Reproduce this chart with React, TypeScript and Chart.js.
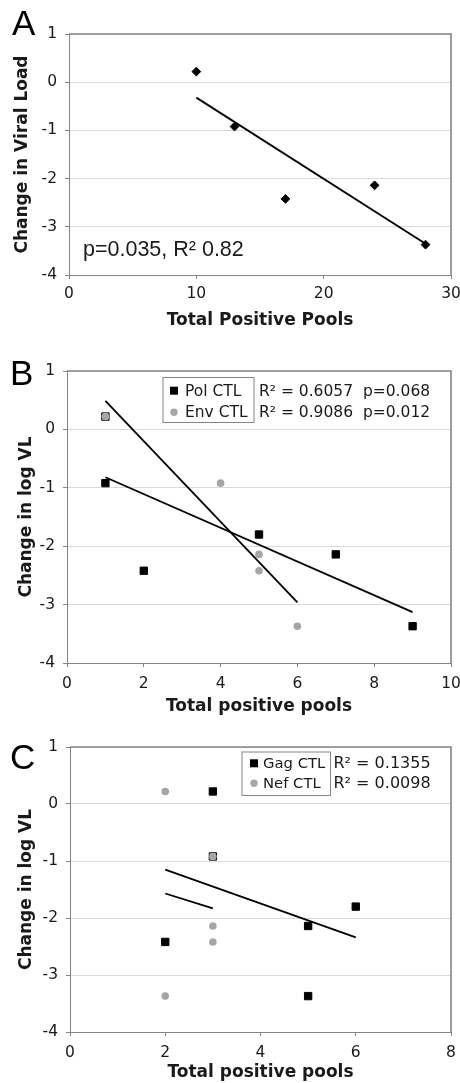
import React, { useEffect, useRef } from "react";
import { Chart, registerables } from "chart.js";

Chart.register(...registerables);

// ---------- Data ----------
// Panel A
const aPools = [10, 13, 17, 24, 28];
const aChange = [0.22, -0.92, -2.42, -2.14, -3.37];
const aTrendX = [10, 28];
const aTrendY = [-0.32, -3.35];
const aStat = "p=0.035, R\u00B2 0.82";

// Panel B
const bPolPools = [1, 1, 2, 5, 7, 9];
const bPolChange = [0.22, -0.92, -2.42, -1.8, -2.14, -3.37];
const bEnvPools = [1, 4, 5, 5, 6];
const bEnvChange = [0.22, -0.92, -2.14, -2.42, -3.37];
const bPolTrendX = [1, 9];
const bPolTrendY = [-0.82, -3.13];
const bEnvTrendX = [1, 6];
const bEnvTrendY = [0.49, -2.96];
const bLabels = ["Pol CTL", "Env CTL"];
const bStats = ["R\u00B2 = 0.6057  p=0.068", "R\u00B2 = 0.9086  p=0.012"];

// Panel C
const cGagPools = [2, 3, 3, 5, 5, 6];
const cGagChange = [-2.42, 0.22, -0.92, -2.14, -3.37, -1.8];
const cNefPools = [2, 2, 3, 3, 3];
const cNefChange = [0.22, -3.37, -0.92, -2.14, -2.42];
const cGagTrendX = [2, 6];
const cGagTrendY = [-1.15, -2.34];
const cNefTrendX = [2, 3];
const cNefTrendY = [-1.57, -1.83];
const cLabels = ["Gag CTL", "Nef CTL"];
const cStats = ["R\u00B2 = 0.1355", "R\u00B2 = 0.0098"];

// Axes
const yMin = -4;
const yMax = 1;
const xMaxes = [30, 10, 8];
const xSteps = [10, 2, 2];
const xTitles = ["Total Positive Pools", "Total positive pools", "Total positive pools"];
const yTitles = ["Change in Viral Load", "Change in log VL", "Change in log VL"];
const letters = ["A", "B", "C"];

// ---------- Styles ----------
const BLACK = "#000000";
const GREY = "#a6a6a6";
const FRAME = "#858585";
const GRID = "#d9d9d9";
const TEXT = "#1a1a1a";
const SANS = '"DejaVu Sans", Verdana, sans-serif';
const ARIAL = '"Liberation Sans", Arial, sans-serif';

type Pt = { x: number; y: number };
const pts = (xs: number[], ys: number[]): Pt[] => xs.map((x, i) => ({ x, y: ys[i] }));

const hasPoint = (list: Pt[], p: Pt) => list.some((q) => q.x === p.x && q.y === p.y);

type LegendEntry = { label: string; style: "rect" | "circle"; color: string; stat: string };

type PanelCfg = {
  idx: number;
  top: number;
  h: number;
  plot: { left: number; right: number; top: number; bottom: number };
  xTitlePad: number;
  yTitlePad: number;
  xTickPad: number;
  letterX: number;
  letterY: number;
  datasets: any[];
  note?: { text: string; x: number; y: number };
  legend?: {
    box: { x1: number; y1: number; x2: number; y2: number };
    rows: number[];
    markerX: number;
    textX: number;
    labelFont: number;
    statX: number;
    statFont: number;
    entries: LegendEntry[];
  };
};

const extrasPlugin = {
  id: "extras",
  afterDraw(chart: any, _args: any, opts: any) {
    const ctx = chart.ctx as CanvasRenderingContext2D;
    const ca = chart.chartArea;
    ctx.save();
    // top / right frame
    ctx.strokeStyle = FRAME;
    ctx.lineWidth = 1.6;
    ctx.beginPath();
    ctx.moveTo(ca.left, ca.top);
    ctx.lineTo(ca.right, ca.top);
    ctx.lineTo(ca.right, ca.bottom);
    ctx.stroke();

    // panel letter
    ctx.fillStyle = BLACK;
    ctx.textBaseline = "alphabetic";
    ctx.textAlign = "left";
    ctx.font = `35px ${ARIAL}`;
    ctx.fillText(opts.letter, opts.letterX, opts.letterY);

    // note
    if (opts.note) {
      ctx.font = `21.5px ${ARIAL}`;
      ctx.fillStyle = TEXT;
      ctx.fillText(opts.note.text, opts.note.x, opts.note.y);
    }

    // legend
    const lg = opts.legend;
    if (lg) {
      const b = lg.box;
      ctx.fillStyle = "#ffffff";
      ctx.fillRect(b.x1, b.y1, b.x2 - b.x1, b.y2 - b.y1);
      ctx.strokeStyle = FRAME;
      ctx.lineWidth = 1;
      ctx.strokeRect(b.x1 + 0.5, b.y1 + 0.5, b.x2 - b.x1, b.y2 - b.y1);
      ctx.textBaseline = "middle";
      lg.entries.forEach((e: LegendEntry, i: number) => {
        const y = lg.rows[i];
        ctx.fillStyle = e.color;
        if (e.style === "rect") {
          ctx.fillRect(lg.markerX - 4, y - 4, 8, 8);
        } else {
          ctx.beginPath();
          ctx.arc(lg.markerX, y, 3.7, 0, Math.PI * 2);
          ctx.fill();
        }
        ctx.fillStyle = TEXT;
        ctx.font = `${lg.labelFont}px ${SANS}`;
        ctx.fillText(e.label, lg.textX, y + 1);
        ctx.font = `${lg.statFont}px ${SANS}`;
        ctx.fillText(e.stat, lg.statX, y + 1);
      });
    }
    ctx.restore();
  },
};

function Panel({ cfg }: { cfg: PanelCfg }) {
  const ref = useRef<HTMLCanvasElement>(null);
  useEffect(() => {
    if (!ref.current) return;
    const p = cfg.plot;
    const W = 460;
    const chart = new Chart(ref.current, {
      type: "scatter",
      data: { datasets: cfg.datasets },
      plugins: [extrasPlugin],
      options: {
        animation: false,
        responsive: false,
        devicePixelRatio: 1,
        events: [],
        layout: { padding: { left: 0, top: p.top, right: W - p.right, bottom: 0 } },
        plugins: {
          legend: { display: false },
          tooltip: { enabled: false },
          extras: {
            letter: letters[cfg.idx],
            letterX: cfg.letterX,
            letterY: cfg.letterY,
            note: cfg.note,
            legend: cfg.legend,
          },
        } as any,
        scales: {
          x: {
            type: "linear",
            min: 0,
            max: xMaxes[cfg.idx],
            ticks: {
              stepSize: xSteps[cfg.idx],
              color: TEXT,
              font: { family: SANS, size: 15.5 },
              padding: cfg.xTickPad,
              maxRotation: 0,
            },
            grid: {
              drawOnChartArea: false,
              drawTicks: true,
              tickLength: 4,
              tickColor: FRAME,
            },
            border: { display: true, color: FRAME, width: 1 },
            title: {
              display: true,
              text: xTitles[cfg.idx],
              color: TEXT,
              font: { family: SANS, size: 17, weight: "bold", lineHeight: 1 },
              padding: { top: 0, bottom: cfg.xTitlePad },
            },
            afterFit(scale: any) {
              scale.height = cfg.h - p.bottom;
              scale.paddingLeft = 0;
              scale.paddingRight = 0;
            },
          },
          y: {
            type: "linear",
            min: yMin,
            max: yMax,
            ticks: {
              stepSize: 1,
              color: TEXT,
              font: { family: SANS, size: 15.5 },
              padding: 8,
            },
            grid: {
              color: GRID,
              lineWidth: 1,
              drawTicks: true,
              tickLength: 4,
              tickColor: FRAME,
            },
            border: { display: true, color: FRAME, width: 1 },
            title: {
              display: true,
              text: yTitles[cfg.idx],
              color: TEXT,
              font: { family: SANS, size: 17, weight: "bold", lineHeight: 1 },
              padding: { top: cfg.yTitlePad, bottom: 0 },
            },
            afterFit(scale: any) {
              scale.width = p.left;
              scale.paddingTop = 0;
              scale.paddingBottom = 0;
            },
          },
        },
      } as any,
    });
    return () => chart.destroy();
  }, []);
  return (
    <canvas
      ref={ref}
      width={460}
      height={cfg.h}
      style={{ position: "absolute", left: 0, top: cfg.top, width: 460, height: cfg.h, display: "block" }}
    />
  );
}

const trend = (xs: number[], ys: number[], label: string) => ({
  label,
  data: pts(xs, ys),
  showLine: true,
  pointRadius: 0,
  borderColor: BLACK,
  borderWidth: 1.8,
  fill: false,
});

const squares = (xs: number[], ys: number[], label: string, other: Pt[]) => ({
  label,
  data: pts(xs, ys),
  pointStyle: "rect",
  pointRadius: 5.2,
  pointBorderWidth: 1,
  pointBorderColor: BLACK,
  pointBackgroundColor: (c: any) => (c.raw && hasPoint(other, c.raw) ? GREY : BLACK),
  showLine: false,
});

const circles = (xs: number[], ys: number[], label: string) => ({
  label,
  data: pts(xs, ys),
  pointStyle: "circle",
  pointRadius: 3.8,
  pointBorderWidth: 0,
  pointBackgroundColor: GREY,
  pointBorderColor: GREY,
  showLine: false,
});

const panels: PanelCfg[] = [
  {
    idx: 0,
    top: 0,
    h: 340,
    plot: { left: 69, right: 451, top: 34, bottom: 275 },
    xTitlePad: 10.5,
    yTitlePad: 14.5,
    xTickPad: 6,
    letterX: 12,
    letterY: 35,
    note: { text: aStat, x: 83, y: 256 },
    datasets: [
      trend(aTrendX, aTrendY, "Trend"),
      {
        label: "Patients",
        data: pts(aPools, aChange),
        pointStyle: "rectRot",
        pointRadius: 4.4,
        pointBorderWidth: 1,
        pointBorderColor: BLACK,
        pointBackgroundColor: BLACK,
        showLine: false,
      },
    ],
  },
  {
    idx: 1,
    top: 340,
    h: 380,
    plot: { left: 67, right: 451, top: 31, bottom: 323 },
    xTitlePad: 4.8,
    yTitlePad: 18,
    xTickPad: 8,
    letterX: 10,
    letterY: 45,
    legend: {
      box: { x1: 162.5, y1: 37, x2: 253.5, y2: 82 },
      rows: [50.7, 72.3],
      markerX: 174,
      textX: 185,
      labelFont: 15.5,
      statX: 259,
      statFont: 15.5,
      entries: [
        { label: bLabels[0], style: "rect", color: BLACK, stat: bStats[0] },
        { label: bLabels[1], style: "circle", color: GREY, stat: bStats[1] },
      ],
    },
    datasets: [
      trend(bPolTrendX, bPolTrendY, "Pol trend"),
      trend(bEnvTrendX, bEnvTrendY, "Env trend"),
      circles(bEnvPools, bEnvChange, bLabels[1]),
      squares(bPolPools, bPolChange, bLabels[0], pts(bEnvPools, bEnvChange)),
    ],
  },
  {
    idx: 2,
    top: 720,
    h: 363,
    plot: { left: 70, right: 451, top: 27, bottom: 312 },
    xTitlePad: 1.8,
    yTitlePad: 18,
    xTickPad: 8,
    letterX: 10,
    letterY: 49,
    legend: {
      box: { x1: 241.5, y1: 31.5, x2: 330, y2: 75 },
      rows: [43.3, 63.3],
      markerX: 254,
      textX: 263,
      labelFont: 14.8,
      statX: 333.5,
      statFont: 16,
      entries: [
        { label: cLabels[0], style: "rect", color: BLACK, stat: cStats[0] },
        { label: cLabels[1], style: "circle", color: GREY, stat: cStats[1] },
      ],
    },
    datasets: [
      trend(cGagTrendX, cGagTrendY, "Gag trend"),
      trend(cNefTrendX, cNefTrendY, "Nef trend"),
      circles(cNefPools, cNefChange, cLabels[1]),
      squares(cGagPools, cGagChange, cLabels[0], pts(cNefPools, cNefChange)),
    ],
  },
];

export default function App() {
  useEffect(() => {
    document.body.style.margin = "0";
    document.body.style.background = "#ffffff";
  }, []);
  return (
    <div style={{ position: "relative", width: 460, height: 1083, background: "#fff", overflow: "hidden" }}>
      {panels.map((cfg) => (
        <Panel key={cfg.idx} cfg={cfg} />
      ))}
    </div>
  );
}
